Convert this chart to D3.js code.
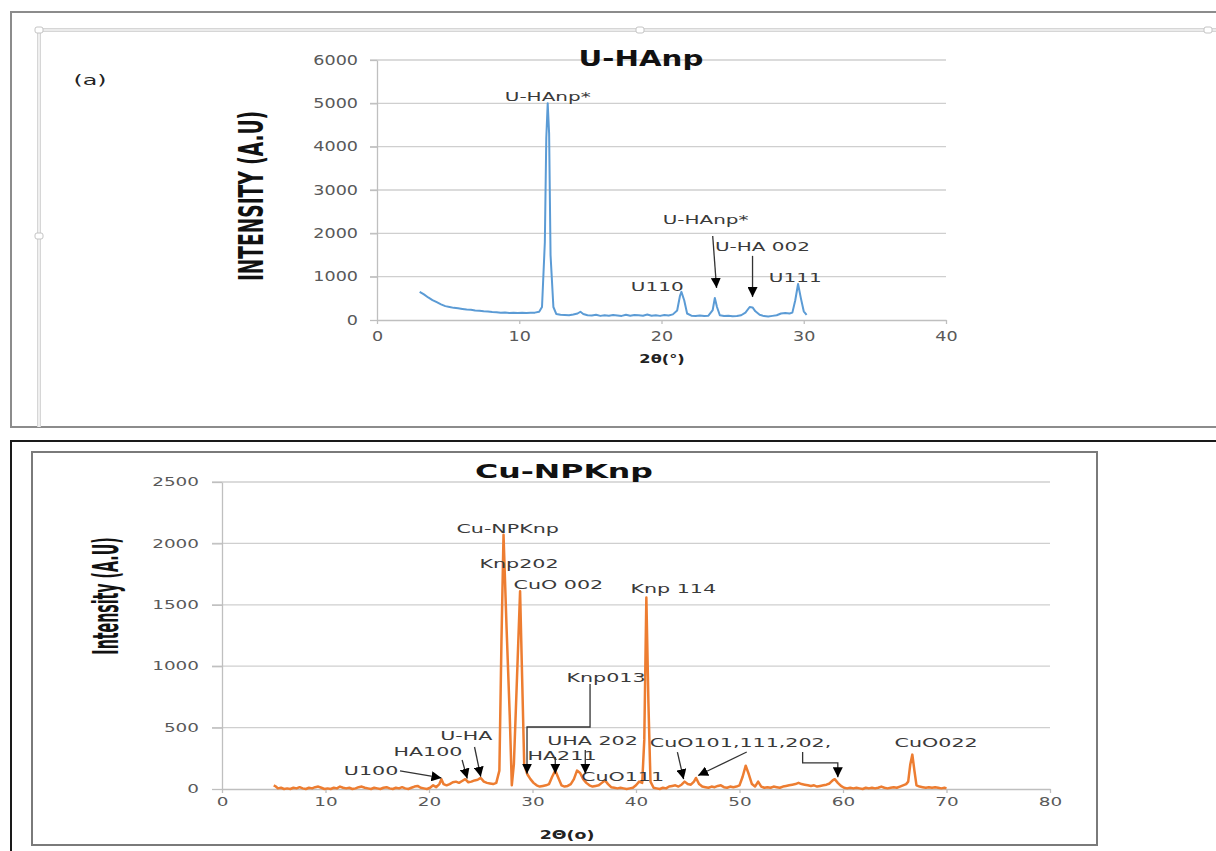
<!DOCTYPE html>
<html>
<head>
<meta charset="utf-8">
<script src="https://cdn.jsdelivr.net/npm/d3@7"></script>
<style>
  body { margin: 0; background: #fff; }
  svg { display: block; font-family: "DejaVu Sans", Verdana, sans-serif; }
</style>
</head>
<body>
<svg id="chart" width="1216" height="851"></svg>
<script>
// ---- panel (a): U-HAnp ----
const topAngles = [3.0, 3.3, 3.6, 3.9, 4.2, 4.5, 4.8, 5.1, 5.4, 5.7, 6.0, 6.3, 6.6, 6.9, 7.2, 7.5, 7.8, 8.1, 8.4, 8.7,
  9.0, 9.3, 9.6, 9.9, 10.2, 10.5, 10.8, 11.1, 11.4, 11.6, 11.8, 11.9, 12.0, 12.1, 12.2, 12.4, 12.6, 12.9, 13.2, 13.5,
  13.8, 14.1, 14.3, 14.5, 14.8, 15.1, 15.4, 15.7, 16.0, 16.3, 16.6, 16.9, 17.2, 17.5, 17.8, 18.1, 18.4, 18.7, 19.0, 19.3,
  19.6, 19.9, 20.2, 20.5, 20.8, 21.1, 21.3, 21.4, 21.6, 21.8, 22.1, 22.4, 22.7, 23.0, 23.3, 23.6, 23.75, 23.9, 24.1, 24.4,
  24.7, 25.0, 25.3, 25.6, 25.9, 26.2, 26.4, 26.6, 26.9, 27.2, 27.5, 27.8, 28.1, 28.4, 28.7, 29.0, 29.2, 29.4, 29.6, 29.8,
  30.0, 30.2];
const topIntensity = [650, 590, 520, 460, 410, 360, 320, 300, 280, 270, 255, 240, 235, 220, 215, 200, 195, 185, 180, 165,
  175, 160, 170, 160, 165, 160, 170, 170, 190, 300, 1800, 4200, 5000, 4300, 1500, 300, 140, 120, 115, 110,
  125, 150, 190, 140, 110, 105, 120, 95, 110, 100, 115, 105, 95, 120, 100, 115, 110, 100, 125, 100,
  110, 95, 115, 105, 130, 220, 560, 650, 450, 150, 100, 95, 105, 90, 100, 230, 510, 300, 110, 90,
  100, 85, 90, 110, 170, 300, 290, 200, 120, 90, 80, 95, 110, 150, 160, 150, 170, 450, 830, 500,
  200, 120];
const topXTicks = [0, 10, 20, 30, 40];
const topYTicks = [0, 1000, 2000, 3000, 4000, 5000, 6000];
const topLabels = [
  { text: "U-HAnp*", x: 12.0, y: 5050 },
  { text: "U110", x: 19.7, y: 670 },
  { text: "U-HAnp*", x: 23.1, y: 2215 },
  { text: "U-HA 002", x: 27.1, y: 1590 },
  { text: "U111", x: 29.4, y: 880 }
];
const topArrows = [
  [[23.6, 1940], [23.87, 740]],
  [[26.4, 1480], [26.4, 530]]
];

// ---- panel (b): Cu-NPKnp ----
const botAngles = [5.0, 5.2, 5.4, 5.7, 6.0, 6.3, 6.6, 6.9, 7.2, 7.5, 7.8, 8.1, 8.4, 8.7, 9.0, 9.3, 9.6, 9.9, 10.2, 10.5,
  10.8, 11.1, 11.4, 11.7, 12.0, 12.3, 12.6, 12.9, 13.2, 13.5, 13.8, 14.1, 14.4, 14.7, 15.0, 15.3, 15.6, 15.9, 16.2, 16.5,
  16.8, 17.1, 17.4, 17.7, 18.0, 18.3, 18.6, 18.9, 19.2, 19.5, 19.8, 20.1, 20.4, 20.7, 21.0, 21.2, 21.4, 21.7, 22.0, 22.3,
  22.6, 22.9, 23.2, 23.5, 23.8, 24.1, 24.4, 24.7, 25.0, 25.3, 25.6, 25.9, 26.2, 26.5, 26.8, 27.0, 27.2, 27.5, 27.8, 28.0,
  28.2, 28.5, 28.8, 29.0, 29.2, 29.5, 29.8, 30.1, 30.4, 30.7, 31.0, 31.3, 31.6, 31.9, 32.2, 32.5, 32.8, 33.1, 33.4, 33.7,
  34.0, 34.3, 34.6, 34.9, 35.2, 35.5, 35.8, 36.1, 36.4, 36.7, 37.0, 37.3, 37.6, 37.9, 38.2, 38.5, 38.8, 39.1, 39.4, 39.7,
  40.0, 40.3, 40.6, 40.8, 41.0, 41.2, 41.4, 41.7, 42.0, 42.3, 42.6, 42.9, 43.2, 43.5, 43.8, 44.1, 44.4, 44.7, 45.0, 45.3,
  45.6, 45.8, 46.1, 46.4, 46.7, 47.0, 47.3, 47.6, 47.9, 48.2, 48.5, 48.8, 49.1, 49.4, 49.7, 50.0, 50.3, 50.6, 50.9, 51.2,
  51.5, 51.8, 52.1, 52.4, 52.7, 53.0, 53.3, 53.6, 53.9, 54.2, 54.5, 54.8, 55.1, 55.4, 55.7, 56.0, 56.3, 56.6, 56.9, 57.2,
  57.5, 57.8, 58.1, 58.4, 58.7, 59.0, 59.2, 59.5, 59.8, 60.1, 60.4, 60.7, 61.0, 61.3, 61.6, 61.9, 62.2, 62.5, 62.8, 63.1,
  63.4, 63.7, 64.0, 64.3, 64.6, 64.9, 65.2, 65.5, 65.8, 66.1, 66.3, 66.5, 66.7, 66.9, 67.1, 67.4, 67.7, 68.0, 68.3, 68.6,
  68.9, 69.2, 69.5, 69.8, 70.0];
const botIntensity = [30, 20, 5, 10, 0, 5, 0, 10, 5, 15, 5, 0, 10, 5, 15, 20, 10, 0, 5, 0,
  10, 5, 20, 10, 5, 10, 0, 5, 15, 20, 10, 5, 0, 10, 5, 0, 10, 15, 5, 0,
  10, 5, 15, 5, 0, 10, 20, 25, 10, 5, 0, 10, 30, 15, 40, 80, 40, 30, 40, 55,
  60, 50, 65, 80, 55, 60, 70, 75, 90, 60, 50, 45, 40, 50, 150, 1200, 2070, 1300, 600, 30,
  200, 900, 1610, 900, 200, 120, 80, 50, 30, 20, 25, 30, 40, 100, 150, 90, 30, 20, 25, 40,
  80, 150, 130, 80, 50, 30, 20, 25, 30, 50, 70, 40, 15, 10, 5, 10, 5, 0, 5, 10,
  30, 60, 50, 400, 1560, 700, 60, 10, 5, 0, 10, 5, 20, 25, 30, 20, 35, 60, 40, 35,
  60, 90, 40, 20, 15, 10, 20, 15, 25, 30, 15, 10, 20, 15, 20, 30, 100, 190, 120, 40,
  20, 60, 20, 10, 15, 10, 20, 15, 10, 20, 25, 30, 35, 40, 50, 40, 35, 30, 25, 30,
  20, 25, 30, 35, 45, 70, 80, 50, 25, 10, 5, 10, 5, 10, 5, 0, 10, 5, 10, 5,
  10, 20, 10, 5, 10, 15, 10, 20, 30, 40, 60, 200, 280, 150, 30, 20, 15, 10, 15, 10,
  15, 10, 5, 10, 5];
const botXTicks = [0, 10, 20, 30, 40, 50, 60, 70, 80];
const botYTicks = [0, 500, 1000, 1500, 2000, 2500];
const botLabels = [
  { text: "Cu-NPKnp", x: 27.6, y: 2085 },
  { text: "Knp202", x: 28.7, y: 1800 },
  { text: "CuO 002", x: 32.5, y: 1630 },
  { text: "Knp 114", x: 43.6, y: 1596 },
  { text: "Knp013", x: 37.1, y: 871 },
  { text: "U-HA", x: 23.6, y: 400 },
  { text: "HA100", x: 19.9, y: 270 },
  { text: "U100", x: 14.4, y: 114 },
  { text: "UHA 202", x: 35.8, y: 360 },
  { text: "HA211", x: 32.85, y: 236 },
  { text: "CuO111", x: 38.7, y: 65 },
  { text: "CuO101,111,202,", x: 50.1, y: 342 },
  { text: "CuO022", x: 69.0, y: 342 }
];
const botArrows = [
  [[35.56, 855], [35.56, 505], [29.47, 505], [29.47, 125]],
  [[24.4, 342], [25.0, 100]],
  [[23.2, 236], [23.7, 85]],
  [[17.2, 147], [21.2, 90]],
  [[32.2, 260], [32.2, 125]],
  [[35.1, 318], [35.1, 125]],
  [[44.0, 301], [44.6, 80]],
  [[50.7, 301], [46.0, 110]],
  [[56.1, 301], [56.1, 212], [59.5, 212], [59.5, 95]]
];

const svg = d3.select("#chart");

// arrow head
svg.append("defs").append("marker")
  .attr("id", "head")
  .attr("viewBox", "0 0 10 10")
  .attr("refX", 10).attr("refY", 5)
  .attr("markerWidth", 10).attr("markerHeight", 10)
  .attr("markerUnits", "userSpaceOnUse")
  .attr("orient", "auto")
  .append("path").attr("d", "M0,0 L10,5 L0,10 z").attr("fill", "#000");

// ---- frames (document look) ----
svg.append("path").attr("d", "M1216,12 H11 V427 H1216")
  .attr("fill", "none").attr("stroke", "#8c8c8c").attr("stroke-width", 2);
svg.append("path").attr("d", "M1216,30 H39 V427")
  .attr("fill", "none").attr("stroke", "#d6d6d6").attr("stroke-width", 4);
svg.append("path").attr("d", "M1216,30 H39 V427")
  .attr("fill", "none").attr("stroke", "#fff").attr("stroke-width", 1.2);
[[39, 30], [39, 236], [640, 30], [1208, 30]].forEach(p => {
  svg.append("rect").attr("x", p[0] - 4).attr("y", p[1] - 3).attr("width", 8).attr("height", 6)
    .attr("rx", 2).attr("fill", "#fff").attr("stroke", "#c4c4c4");
});
svg.append("path").attr("d", "M1216,441 H11 V851")
  .attr("fill", "none").attr("stroke", "#1a1a1a").attr("stroke-width", 2);
svg.append("rect").attr("x", 32).attr("y", 452).attr("width", 1065).attr("height", 393)
  .attr("fill", "none").attr("stroke", "#7a7a7a").attr("stroke-width", 2);

// text drawn stretched sideways like the scanned figure
function wideText(g, str, x, y, size, sx, opts) {
  opts = opts || {};
  return g.append("text")
    .attr("transform", `translate(${x},${y}) scale(${sx},1)`)
    .attr("text-anchor", opts.anchor || "middle")
    .attr("font-size", size)
    .attr("font-weight", opts.weight || "normal")
    .attr("fill", opts.color || "#404040")
    .text(str);
}

function drawPanel(cfg) {
  const g = svg.append("g");
  const x = cfg.x, y = cfg.y;
  const [x0, x1] = x.range();
  const [y0, y1] = y.range();

  // gridlines
  g.selectAll(".grid").data(cfg.yTicks.filter(d => d > 0)).enter()
    .append("line")
    .attr("x1", x0 - cfg.stub).attr("x2", x1)
    .attr("y1", d => y(d)).attr("y2", d => y(d))
    .attr("stroke", "#cfcfcf").attr("stroke-width", 1.3);

  // y axis
  const gy = g.append("g").attr("transform", `translate(${x0},0)`)
    .call(d3.axisLeft(y).tickValues(cfg.yTicks).tickFormat(d3.format("d"))
      .tickSize(cfg.stub).tickSizeOuter(0));
  gy.attr("font-family", null).attr("font-size", cfg.tickSize);
  gy.selectAll("path, line").attr("stroke", "#bfbfbf").attr("stroke-width", 1.3);
  gy.selectAll("text").attr("fill", "#595959")
    .attr("x", 0)
    .attr("transform", `translate(${-cfg.yLabelOff},0) scale(${cfg.tickSx},1)`);

  // x axis
  const gx = g.append("g").attr("transform", `translate(0,${y0})`)
    .call(d3.axisBottom(x).tickValues(cfg.xTicks).tickFormat(d3.format("d"))
      .tickSize(4).tickSizeOuter(0).tickPadding(cfg.xPad));
  gx.attr("font-family", null).attr("font-size", cfg.tickSize);
  gx.selectAll("path, line").attr("stroke", "#bfbfbf").attr("stroke-width", 1.3);
  gx.selectAll("text").attr("fill", "#595959").attr("transform", `scale(${cfg.tickSx},1)`)
    .attr("x", 0);

  // series
  const line = d3.line().x(d => x(d[0])).y(d => y(d[1]));
  g.append("path").datum(d3.zip(cfg.angles, cfg.values))
    .attr("d", line).attr("fill", "none")
    .attr("stroke", cfg.color).attr("stroke-width", cfg.lineW)
    .attr("stroke-linejoin", "round");

  // title
  wideText(g, cfg.title, cfg.titleX, cfg.titleY, cfg.titleSize, cfg.titleSx, { weight: "bold", color: "#111" });

  // annotations
  cfg.labels.forEach(l => {
    wideText(g, l.text, x(l.x), y(l.y), cfg.noteSize, cfg.noteSx, { color: "#3a3a3a" });
  });
  cfg.arrows.forEach(a => {
    g.append("path").datum(a).attr("d", line)
      .attr("fill", "none").attr("stroke", "#333").attr("stroke-width", 1.3)
      .attr("marker-end", "url(#head)");
  });

  // axis titles
  g.append("text")
    .attr("transform", `translate(${cfg.yTitleX},${cfg.yTitleY}) rotate(-90) scale(${cfg.yTitleSa},${cfg.yTitleSp})`)
    .attr("text-anchor", "middle").attr("font-size", 20).attr("font-weight", "bold")
    .attr("fill", "#111").text(cfg.yTitle);
  wideText(g, cfg.xTitle, cfg.xTitleX, cfg.xTitleY, 12, cfg.xTitleSx, { weight: "bold", color: "#222" });
}

drawPanel({
  x: d3.scaleLinear().domain([0, 40]).range([377, 946]),
  y: d3.scaleLinear().domain([0, 6000]).range([320, 60]),
  xTicks: topXTicks, yTicks: topYTicks,
  angles: topAngles, values: topIntensity,
  color: "#5B9BD5", lineW: 2,
  stub: 7, yLabelOff: 19, xPad: 7, tickSize: 13.5, tickSx: 1.3,
  title: "U-HAnp", titleX: 641, titleY: 66, titleSize: 22, titleSx: 1.33,
  labels: topLabels, arrows: topArrows, noteSize: 12.5, noteSx: 1.6,
  yTitle: "INTENSITY (A.U)", yTitleX: 263, yTitleY: 196, yTitleSa: 0.93, yTitleSp: 1.71,
  xTitle: "2θ(°)", xTitleX: 662, xTitleY: 363, xTitleSx: 1.35
});

drawPanel({
  x: d3.scaleLinear().domain([0, 80]).range([222, 1050]),
  y: d3.scaleLinear().domain([0, 2500]).range([789, 482]),
  xTicks: botXTicks, yTicks: botYTicks,
  angles: botAngles, values: botIntensity,
  color: "#ED7D31", lineW: 2.5,
  stub: 10, yLabelOff: 23, xPad: 5, tickSize: 11.5, tickSx: 1.6,
  title: "Cu-NPKnp", titleX: 564, titleY: 478, titleSize: 20, titleSx: 1.58,
  labels: botLabels, arrows: botArrows, noteSize: 12, noteSx: 1.72,
  yTitle: "Intensity (A.U)", yTitleX: 118, yTitleY: 596, yTitleSa: 0.71, yTitleSp: 1.75,
  xTitle: "2Θ(o)", xTitleX: 567, xTitleY: 839, xTitleSx: 1.45
});

// panel tag
wideText(svg, "(a)", 90, 85, 14, 1.7, { color: "#222" });
</script>
</body>
</html>
